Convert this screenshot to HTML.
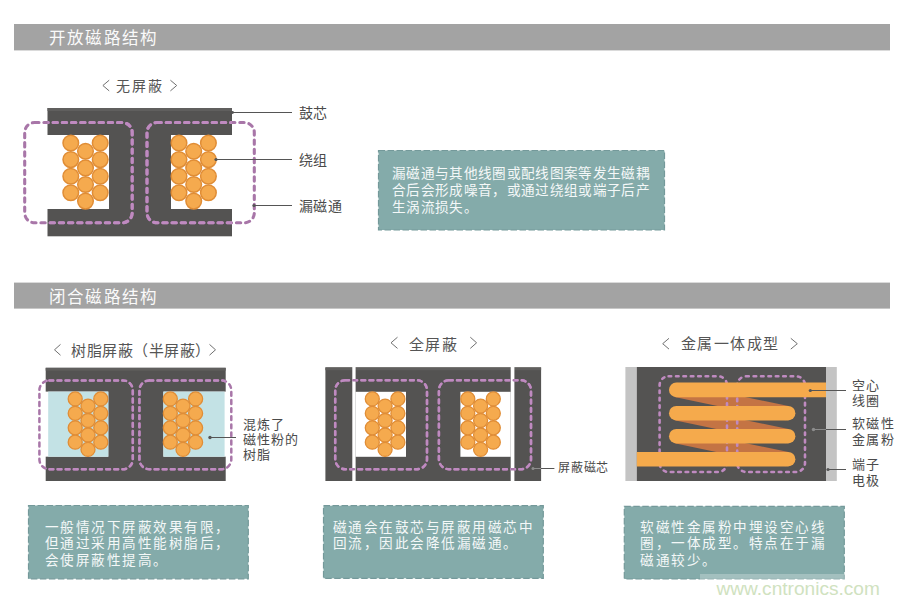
<!DOCTYPE html>
<html lang="zh-CN"><head><meta charset="utf-8">
<style>
html,body{margin:0;padding:0;background:#fff;}
body{width:900px;height:604px;position:relative;overflow:hidden;font-family:"Liberation Sans",sans-serif;}
.a{position:absolute;white-space:nowrap;line-height:1;}
.hd{font-size:16.5px;letter-spacing:1.35px;color:#fafafa;}
.tt{font-size:15px;color:#555;}
.lb{font-size:14px;color:#4a4a4a;letter-spacing:0.4px;}
.ls{font-size:13px;letter-spacing:1.3px;color:#4a4a4a;line-height:15.3px;}
.bx{font-size:13.6px;color:#f4f8f8;letter-spacing:0.33px;line-height:17.2px;}
.bb{font-size:13.6px;color:#f4f8f8;letter-spacing:1.5px;line-height:16.8px;}
svg{position:absolute;left:0;top:0;}
</style></head><body>
<svg width="900" height="604" viewBox="0 0 900 604">
<g fill="#a3a3a3"><rect x="14" y="24" width="876" height="26.4"/><rect x="14" y="282.6" width="876" height="26"/></g>
<clipPath id="c1"><rect x="47.5" y="108" width="184.5" height="27"/><rect x="47.5" y="209" width="184.5" height="27.3"/><rect x="109" y="134" width="62" height="76"/></clipPath>
<g fill="#545352"><rect x="47.5" y="108" width="184.5" height="27"/><rect x="47.5" y="209" width="184.5" height="27.3"/><rect x="109" y="134" width="62" height="76"/></g>
<g fill="#605f5e"><rect x="47.5" y="108" width="184.5" height="3"/></g>
<g fill="#f5aa4e"><circle cx="70.8" cy="143" r="7.8"/><circle cx="70.8" cy="159.6" r="7.8"/><circle cx="70.8" cy="176.2" r="7.8"/><circle cx="70.8" cy="192.8" r="7.8"/><circle cx="100.2" cy="143" r="7.8"/><circle cx="100.2" cy="159.6" r="7.8"/><circle cx="100.2" cy="176.2" r="7.8"/><circle cx="100.2" cy="192.8" r="7.8"/><circle cx="85.5" cy="151.3" r="7.8"/><circle cx="85.5" cy="167.9" r="7.8"/><circle cx="85.5" cy="184.5" r="7.8"/><circle cx="85.5" cy="201.1" r="7.8"/></g><g fill="none" stroke="#e08d36" stroke-width="1.5"><circle cx="70.8" cy="143" r="7.8"/><circle cx="70.8" cy="159.6" r="7.8"/><circle cx="70.8" cy="176.2" r="7.8"/><circle cx="70.8" cy="192.8" r="7.8"/><circle cx="100.2" cy="143" r="7.8"/><circle cx="100.2" cy="159.6" r="7.8"/><circle cx="100.2" cy="176.2" r="7.8"/><circle cx="100.2" cy="192.8" r="7.8"/><circle cx="85.5" cy="151.3" r="7.8"/><circle cx="85.5" cy="167.9" r="7.8"/><circle cx="85.5" cy="184.5" r="7.8"/><circle cx="85.5" cy="201.1" r="7.8"/></g>
<g fill="#f5aa4e"><circle cx="179" cy="143" r="7.8"/><circle cx="179" cy="159.6" r="7.8"/><circle cx="179" cy="176.2" r="7.8"/><circle cx="179" cy="192.8" r="7.8"/><circle cx="208.4" cy="143" r="7.8"/><circle cx="208.4" cy="159.6" r="7.8"/><circle cx="208.4" cy="176.2" r="7.8"/><circle cx="208.4" cy="192.8" r="7.8"/><circle cx="193.7" cy="151.3" r="7.8"/><circle cx="193.7" cy="167.9" r="7.8"/><circle cx="193.7" cy="184.5" r="7.8"/><circle cx="193.7" cy="201.1" r="7.8"/></g><g fill="none" stroke="#e08d36" stroke-width="1.5"><circle cx="179" cy="143" r="7.8"/><circle cx="179" cy="159.6" r="7.8"/><circle cx="179" cy="176.2" r="7.8"/><circle cx="179" cy="192.8" r="7.8"/><circle cx="208.4" cy="143" r="7.8"/><circle cx="208.4" cy="159.6" r="7.8"/><circle cx="208.4" cy="176.2" r="7.8"/><circle cx="208.4" cy="192.8" r="7.8"/><circle cx="193.7" cy="151.3" r="7.8"/><circle cx="193.7" cy="167.9" r="7.8"/><circle cx="193.7" cy="184.5" r="7.8"/><circle cx="193.7" cy="201.1" r="7.8"/></g>
<g fill="none" stroke="#a876a8" stroke-width="3.1" stroke-linecap="round" stroke-dasharray="4.3 4.9"><rect x="24.7" y="122.5" width="107.5" height="100.3" rx="10"/><rect x="147" y="122.5" width="107.3" height="100.3" rx="10"/></g><g fill="none" stroke="#bf8ac0" stroke-width="3.1" stroke-linecap="round" stroke-dasharray="4.3 4.9" clip-path="url(#c1)"><rect x="24.7" y="122.5" width="107.5" height="100.3" rx="10"/><rect x="147" y="122.5" width="107.3" height="100.3" rx="10"/></g>
<g stroke="#555" stroke-width="1"><line x1="232" y1="112.5" x2="292" y2="112.5"/><line x1="216" y1="159.5" x2="292" y2="159.5"/><line x1="254" y1="205.5" x2="292" y2="205.5"/></g>
<g fill="#555"><circle cx="232.5" cy="112.5" r="1.4"/><circle cx="216" cy="159.5" r="1.6"/><circle cx="254" cy="205.5" r="1.6"/></g>
<rect x="378.5" y="150.5" width="286" height="79.5" fill="#84abaa" stroke="#74999a" stroke-width="1.2" stroke-dasharray="6.5 2.5"/>
<clipPath id="c2"><rect x="45.7" y="367.8" width="180" height="23.8"/><rect x="45.7" y="456.7" width="180" height="24.3"/><rect x="108.3" y="391" width="55.1" height="66"/></clipPath>
<g fill="#545352"><rect x="45.7" y="367.8" width="180" height="23.8"/><rect x="45.7" y="456.7" width="180" height="24.3"/><rect x="108.3" y="391" width="55.1" height="66"/></g>
<g fill="#605f5e"><rect x="45.7" y="367.8" width="180" height="2.8"/></g>
<g fill="#c3e2e5"><rect x="48.2" y="391.6" width="60.1" height="65.1"/><rect x="163.4" y="391.6" width="61.2" height="65.1"/></g>
<g fill="#f5aa4e"><circle cx="75.2" cy="398.9" r="7.0"/><circle cx="75.2" cy="413.3" r="7.0"/><circle cx="75.2" cy="427.8" r="7.0"/><circle cx="75.2" cy="442.2" r="7.0"/><circle cx="100.8" cy="398.9" r="7.0"/><circle cx="100.8" cy="413.3" r="7.0"/><circle cx="100.8" cy="427.8" r="7.0"/><circle cx="100.8" cy="442.2" r="7.0"/><circle cx="88" cy="406.1" r="7.0"/><circle cx="88" cy="420.5" r="7.0"/><circle cx="88" cy="435" r="7.0"/><circle cx="88" cy="449.4" r="7.0"/></g><g fill="none" stroke="#e08d36" stroke-width="1.3"><circle cx="75.2" cy="398.9" r="7.0"/><circle cx="75.2" cy="413.3" r="7.0"/><circle cx="75.2" cy="427.8" r="7.0"/><circle cx="75.2" cy="442.2" r="7.0"/><circle cx="100.8" cy="398.9" r="7.0"/><circle cx="100.8" cy="413.3" r="7.0"/><circle cx="100.8" cy="427.8" r="7.0"/><circle cx="100.8" cy="442.2" r="7.0"/><circle cx="88" cy="406.1" r="7.0"/><circle cx="88" cy="420.5" r="7.0"/><circle cx="88" cy="435" r="7.0"/><circle cx="88" cy="449.4" r="7.0"/></g>
<g fill="#f5aa4e"><circle cx="170.3" cy="398.9" r="7.0"/><circle cx="170.3" cy="413.3" r="7.0"/><circle cx="170.3" cy="427.8" r="7.0"/><circle cx="170.3" cy="442.2" r="7.0"/><circle cx="195.6" cy="398.9" r="7.0"/><circle cx="195.6" cy="413.3" r="7.0"/><circle cx="195.6" cy="427.8" r="7.0"/><circle cx="195.6" cy="442.2" r="7.0"/><circle cx="183" cy="406.1" r="7.0"/><circle cx="183" cy="420.5" r="7.0"/><circle cx="183" cy="435" r="7.0"/><circle cx="183" cy="449.4" r="7.0"/></g><g fill="none" stroke="#e08d36" stroke-width="1.3"><circle cx="170.3" cy="398.9" r="7.0"/><circle cx="170.3" cy="413.3" r="7.0"/><circle cx="170.3" cy="427.8" r="7.0"/><circle cx="170.3" cy="442.2" r="7.0"/><circle cx="195.6" cy="398.9" r="7.0"/><circle cx="195.6" cy="413.3" r="7.0"/><circle cx="195.6" cy="427.8" r="7.0"/><circle cx="195.6" cy="442.2" r="7.0"/><circle cx="183" cy="406.1" r="7.0"/><circle cx="183" cy="420.5" r="7.0"/><circle cx="183" cy="435" r="7.0"/><circle cx="183" cy="449.4" r="7.0"/></g>
<g fill="none" stroke="#a876a8" stroke-width="2.5" stroke-linecap="round" stroke-dasharray="3.8 4.3"><rect x="39.4" y="380.4" width="93.4" height="88.9" rx="10"/><rect x="139.4" y="380.4" width="91.9" height="88.9" rx="10"/></g><g fill="none" stroke="#bf8ac0" stroke-width="2.5" stroke-linecap="round" stroke-dasharray="3.8 4.3" clip-path="url(#c2)"><rect x="39.4" y="380.4" width="93.4" height="88.9" rx="10"/><rect x="139.4" y="380.4" width="91.9" height="88.9" rx="10"/></g>
<line x1="210" y1="437.5" x2="236" y2="437.5" stroke="#555" stroke-width="1"/><circle cx="210" cy="437.5" r="1.7" fill="#555"/>
<g fill="#545352"><rect x="325.4" y="367.4" width="215.7" height="113.6"/></g>
<g fill="#605f5e"><rect x="325.4" y="367.4" width="215.7" height="2.8"/></g>
<g fill="#fff"><rect x="352.3" y="366" width="3.3" height="116"/><rect x="510.7" y="366" width="3.7" height="116"/><rect x="355.5" y="391.8" width="50.5" height="65"/><rect x="460.4" y="391.8" width="50.3" height="65"/></g>
<g fill="#f5aa4e"><circle cx="372.3" cy="398.9" r="7.0"/><circle cx="372.3" cy="413.3" r="7.0"/><circle cx="372.3" cy="427.8" r="7.0"/><circle cx="372.3" cy="442.2" r="7.0"/><circle cx="397.9" cy="398.9" r="7.0"/><circle cx="397.9" cy="413.3" r="7.0"/><circle cx="397.9" cy="427.8" r="7.0"/><circle cx="397.9" cy="442.2" r="7.0"/><circle cx="385.1" cy="406.1" r="7.0"/><circle cx="385.1" cy="420.5" r="7.0"/><circle cx="385.1" cy="435" r="7.0"/><circle cx="385.1" cy="449.4" r="7.0"/></g><g fill="none" stroke="#e08d36" stroke-width="1.3"><circle cx="372.3" cy="398.9" r="7.0"/><circle cx="372.3" cy="413.3" r="7.0"/><circle cx="372.3" cy="427.8" r="7.0"/><circle cx="372.3" cy="442.2" r="7.0"/><circle cx="397.9" cy="398.9" r="7.0"/><circle cx="397.9" cy="413.3" r="7.0"/><circle cx="397.9" cy="427.8" r="7.0"/><circle cx="397.9" cy="442.2" r="7.0"/><circle cx="385.1" cy="406.1" r="7.0"/><circle cx="385.1" cy="420.5" r="7.0"/><circle cx="385.1" cy="435" r="7.0"/><circle cx="385.1" cy="449.4" r="7.0"/></g>
<g fill="#f5aa4e"><circle cx="467.8" cy="398.9" r="7.0"/><circle cx="467.8" cy="413.3" r="7.0"/><circle cx="467.8" cy="427.8" r="7.0"/><circle cx="467.8" cy="442.2" r="7.0"/><circle cx="493.3" cy="398.9" r="7.0"/><circle cx="493.3" cy="413.3" r="7.0"/><circle cx="493.3" cy="427.8" r="7.0"/><circle cx="493.3" cy="442.2" r="7.0"/><circle cx="480.6" cy="406.1" r="7.0"/><circle cx="480.6" cy="420.5" r="7.0"/><circle cx="480.6" cy="435" r="7.0"/><circle cx="480.6" cy="449.4" r="7.0"/></g><g fill="none" stroke="#e08d36" stroke-width="1.3"><circle cx="467.8" cy="398.9" r="7.0"/><circle cx="467.8" cy="413.3" r="7.0"/><circle cx="467.8" cy="427.8" r="7.0"/><circle cx="467.8" cy="442.2" r="7.0"/><circle cx="493.3" cy="398.9" r="7.0"/><circle cx="493.3" cy="413.3" r="7.0"/><circle cx="493.3" cy="427.8" r="7.0"/><circle cx="493.3" cy="442.2" r="7.0"/><circle cx="480.6" cy="406.1" r="7.0"/><circle cx="480.6" cy="420.5" r="7.0"/><circle cx="480.6" cy="435" r="7.0"/><circle cx="480.6" cy="449.4" r="7.0"/></g>
<clipPath id="c3"><rect x="325.4" y="367.4" width="26.9" height="113.6"/><rect x="355.6" y="367.4" width="155.1" height="24.4"/><rect x="355.6" y="456.8" width="155.1" height="24.2"/><rect x="406" y="391" width="54.4" height="66"/><rect x="514.4" y="367.4" width="26.7" height="113.6"/></clipPath>
<g fill="none" stroke="#a876a8" stroke-width="2.5" stroke-linecap="round" stroke-dasharray="3.8 4.3"><rect x="335.2" y="380.3" width="91.8" height="88.9" rx="10"/><rect x="438.9" y="380.3" width="92.1" height="88.9" rx="10"/></g><g fill="none" stroke="#bf8ac0" stroke-width="2.5" stroke-linecap="round" stroke-dasharray="3.8 4.3" clip-path="url(#c3)"><rect x="335.2" y="380.3" width="91.8" height="88.9" rx="10"/><rect x="438.9" y="380.3" width="92.1" height="88.9" rx="10"/></g>
<line x1="533" y1="468.5" x2="554.4" y2="468.5" stroke="#555" stroke-width="1"/>
<g fill="#c4c4c4"><rect x="625.4" y="367" width="11.4" height="114"/><rect x="826" y="367" width="10.8" height="114"/></g>
<g fill="#545352"><rect x="636.8" y="367" width="189.2" height="114"/></g>
<g stroke="#c47444" stroke-width="14.6"><line x1="676" y1="389.8" x2="787" y2="413.2"/><line x1="676" y1="413.2" x2="787" y2="436.2"/><line x1="676" y1="436.2" x2="787" y2="459.2"/></g>
<g fill="none" stroke="#bf8ac0" stroke-width="2.6" stroke-linecap="round" stroke-dasharray="2.6 4.8"><rect x="659.6" y="376.3" width="67.4" height="95.7" rx="9"/><rect x="737.2" y="376.3" width="67.8" height="95.7" rx="9"/></g>
<g fill="#f5aa4c"><path d="M676.3 382.6 H826 V397.2 H676.3 A7.3 7.3 0 0 1 676.3 382.6 Z"/><rect x="669" y="405.9" width="126.4" height="14.6" rx="7.3"/><rect x="669" y="428.9" width="126.4" height="14.6" rx="7.3"/><path d="M636.8 451.9 H788.1 A7.3 7.3 0 0 1 788.1 466.5 H636.8 Z"/></g>
<g stroke="#555" stroke-width="1"><line x1="810.3" y1="390.5" x2="846" y2="390.5"/><line x1="814" y1="429.5" x2="846" y2="429.5"/><line x1="828" y1="469.5" x2="846" y2="469.5"/></g>
<circle cx="810.3" cy="390.5" r="1.6" fill="#555"/><circle cx="828" cy="469.5" r="1.6" fill="#555"/>
<g stroke="#8c8c8c" stroke-width="1"><line x1="813.5" y1="429.5" x2="826" y2="429.5"/><line x1="533" y1="468.5" x2="541" y2="468.5"/></g><circle cx="813.5" cy="429.5" r="1.7" fill="#8c8c8c"/><circle cx="533" cy="468.5" r="1.5" fill="#8c8c8c"/>
<rect x="28.5" y="505.5" width="219.8" height="73.3" fill="#84abaa" stroke="#74999a" stroke-width="1.2" stroke-dasharray="6.5 2.5"/>
<rect x="323.5" y="505.7" width="219.8" height="72.6" fill="#84abaa" stroke="#74999a" stroke-width="1.2" stroke-dasharray="6.5 2.5"/>
<rect x="624.3" y="506.4" width="220" height="72.6" fill="#84abaa" stroke="#74999a" stroke-width="1.2" stroke-dasharray="6.5 2.5"/>
<rect x="700" y="574" width="200" height="30" fill="#fff" fill-opacity="0.25"/>
<g fill="none" stroke="#707070" stroke-width="1"><polyline points="109.2,80.2 102.9,85.5 109.2,90.9"/><polyline points="170.4,80.2 176.7,85.5 170.4,90.9"/><polyline points="60.5,344.4 54.5,349.8 60.5,355.2"/><polyline points="209.5,344.4 215.5,349.8 209.5,355.2"/><polyline points="397.5,337.2 391,342.8 397.5,348.4"/><polyline points="470.3,337.2 476.6,342.8 470.3,348.4"/><polyline points="669,338.3 662.7,343.7 669,349.1"/><polyline points="790.8,338.3 797.3,343.7 790.8,349.1"/></g>
</svg>
<div class="a hd" style="left:48.5px;top:30.3px;">开放磁路结构</div>
<div class="a hd" style="left:48.5px;top:288.5px;">闭合磁路结构</div>

<div class="a tt" style="left:115.5px;top:78.9px;font-size:14px;letter-spacing:2.4px;">无屏蔽</div>
<div class="a lb" style="left:299px;top:106px;">鼓芯</div>
<div class="a lb" style="left:299px;top:153px;">绕组</div>
<div class="a lb" style="left:299px;top:199px;">漏磁通</div>

<div class="a bx" style="left:392px;top:164.5px;">漏磁通与其他线圈或配线图案等发生磁耦<br>合后会形成噪音，或通过绕组或端子后产<br>生涡流损失。</div>

<div class="a tt" style="left:71px;top:342.5px;letter-spacing:0.5px;">树脂屏蔽（半屏蔽）</div>
<div class="a tt" style="left:409px;top:336.5px;letter-spacing:1.45px;">全屏蔽</div>
<div class="a tt" style="left:681px;top:336.3px;letter-spacing:1.4px;">金属一体成型</div>

<div class="a ls" style="left:242.6px;top:418px;line-height:14.8px;">混炼了<br>磁性粉的<br>树脂</div>
<div class="a ls" style="left:558px;top:460.5px;font-size:12px;letter-spacing:0.8px;">屏蔽磁芯</div>
<div class="a ls" style="left:851.5px;top:377.5px;line-height:15px;letter-spacing:1.6px;">空心<br>线圈</div>
<div class="a ls" style="left:851.5px;top:416px;line-height:16px;letter-spacing:1.6px;">软磁性<br>金属粉</div>
<div class="a ls" style="left:851.5px;top:457px;line-height:16px;letter-spacing:1.6px;">端子<br>电极</div>

<div class="a bb" style="left:44.5px;top:519.6px;">一般情况下屏蔽效果有限，<br>但通过采用高性能树脂后，<br>会使屏蔽性提高。</div>
<div class="a bb" style="left:332.5px;top:519.6px;">磁通会在鼓芯与屏蔽用磁芯中<br>回流，因此会降低漏磁通。</div>
<div class="a bb" style="left:640px;top:519.6px;">软磁性金属粉中埋设空心线<br>圈，一体成型。特点在于漏<br>磁通较少。</div>

<div class="a" style="left:716.5px;top:579px;font-size:19.1px;color:#d0e2c0;">www.cntronics.com</div>
</body></html>
